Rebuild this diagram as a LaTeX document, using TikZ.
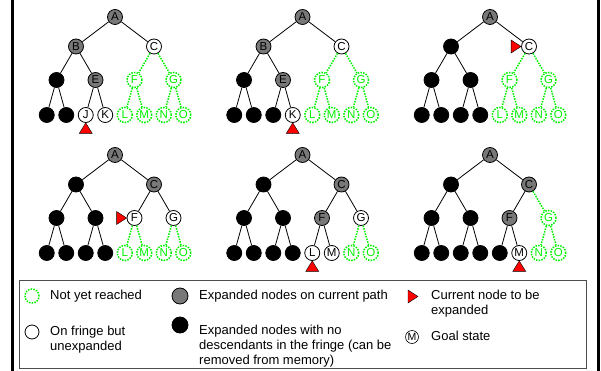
\documentclass[tikz,border=0pt]{standalone}
\usepackage{fontspec}
\setmainfont{Liberation Sans}
\definecolor{ngreen}{RGB}{0,240,0}
\definecolor{ngray}{RGB}{120,120,120}
\tikzset{
 nd/.style={circle, minimum size=15pt, inner sep=0pt, font=\fontsize{11.5}{11.5}\selectfont, line width=0.8pt},
 gnode/.style={nd, draw=black, fill=ngray},
 bnode/.style={nd, draw=black, fill=black},
 wnode/.style={nd, draw=black, fill=white},
 rnode/.style={nd, draw=ngreen, text=ngreen, line width=1.5pt, dash pattern=on 1.5pt off 1.2pt},
 tedge/.style={draw=black, line width=0.8pt},
 gedge/.style={draw=ngreen, line width=1.5pt, dash pattern=on 1.5pt off 1.2pt},
 redtri/.style={fill=red, draw=black, line width=0.4pt},
 legtext/.style={anchor=west, align=left, inner sep=0pt, font=\fontsize{13}{15}\selectfont},
}
\newcommand{\treeedges}[5]{%
 \draw[tedge] (#1a)--(#1b) (#1a)--(#1c) (#1b)--(#1d) (#1b)--(#1e) (#1d)--(#1h) (#1d)--(#1i) (#1e)--(#1j) (#1e)--(#1k);
 \draw[#2] (#1c)--(#1f);
 \draw[#3] (#1c)--(#1g);
 \draw[#4] (#1f)--(#1l) (#1f)--(#1m);
 \draw[#5] (#1g)--(#1n) (#1g)--(#1o);}
\begin{document}
\begin{tikzpicture}[x=1pt,y=-1pt]
\useasboundingbox (0,0) rectangle (601,371);
% frame lines
\draw[line width=3pt] (12,0) -- (12,371);
\draw[line width=3pt] (598,0) -- (598,371);

% ---------- Panel 1 ----------
\begin{scope}[shift={(115,17)}]
\node[gnode] (p1a) at (0,0) {A};
\node[gnode] (p1b) at (-39,29.5) {B};
\node[wnode] (p1c) at (39,29.5) {C};
\node[bnode] (p1d) at (-58.5,63) {};
\node[gnode] (p1e) at (-19.5,63) {E};
\node[rnode] (p1f) at (19.5,63) {F};
\node[rnode] (p1g) at (58.5,63) {G};
\node[bnode] (p1h) at (-68.25,98) {};
\node[bnode] (p1i) at (-48.75,98) {};
\node[wnode] (p1j) at (-29.25,98) {J};
\node[wnode] (p1k) at (-9.75,98) {K};
\node[rnode] (p1l) at (9.75,98) {L};
\node[rnode] (p1m) at (29.25,98) {M};
\node[rnode] (p1n) at (48.75,98) {N};
\node[rnode] (p1o) at (68.25,98) {O};
\end{scope}
\treeedges{p1}{gedge}{gedge}{gedge}{gedge}
\draw[redtri] (p1j.south) -- ++(-6.5,10.5) -- ++(13,0) -- cycle;

% ---------- Panel 2 ----------
\begin{scope}[shift={(302.5,17)}]
\node[gnode] (p2a) at (0,0) {A};
\node[gnode] (p2b) at (-39,29.5) {B};
\node[wnode] (p2c) at (39,29.5) {C};
\node[bnode] (p2d) at (-58.5,63) {};
\node[gnode] (p2e) at (-19.5,63) {E};
\node[rnode] (p2f) at (19.5,63) {F};
\node[rnode] (p2g) at (58.5,63) {G};
\node[bnode] (p2h) at (-68.25,98) {};
\node[bnode] (p2i) at (-48.75,98) {};
\node[bnode] (p2j) at (-29.25,98) {};
\node[wnode] (p2k) at (-9.75,98) {K};
\node[rnode] (p2l) at (9.75,98) {L};
\node[rnode] (p2m) at (29.25,98) {M};
\node[rnode] (p2n) at (48.75,98) {N};
\node[rnode] (p2o) at (68.25,98) {O};
\end{scope}
\treeedges{p2}{gedge}{gedge}{gedge}{gedge}
\draw[redtri] (p2k.south) -- ++(-6.5,10.5) -- ++(13,0) -- cycle;

% ---------- Panel 3 ----------
\begin{scope}[shift={(490,17)}]
\node[gnode] (p3a) at (0,0) {A};
\node[bnode] (p3b) at (-39,29.5) {};
\node[wnode] (p3c) at (39,29.5) {C};
\node[bnode] (p3d) at (-58.5,63) {};
\node[bnode] (p3e) at (-19.5,63) {};
\node[rnode] (p3f) at (19.5,63) {F};
\node[rnode] (p3g) at (58.5,63) {G};
\node[bnode] (p3h) at (-68.25,98) {};
\node[bnode] (p3i) at (-48.75,98) {};
\node[bnode] (p3j) at (-29.25,98) {};
\node[bnode] (p3k) at (-9.75,98) {};
\node[rnode] (p3l) at (9.75,98) {L};
\node[rnode] (p3m) at (29.25,98) {M};
\node[rnode] (p3n) at (48.75,98) {N};
\node[rnode] (p3o) at (68.25,98) {O};
\end{scope}
\treeedges{p3}{gedge}{gedge}{gedge}{gedge}
\draw[redtri] (p3c.west) -- ++(-10,-6.5) -- ++(0,13) -- cycle;

% ---------- Panel 4 ----------
\begin{scope}[shift={(115,155)}]
\node[gnode] (p4a) at (0,0) {A};
\node[bnode] (p4b) at (-39,29.5) {};
\node[gnode] (p4c) at (39,29.5) {C};
\node[bnode] (p4d) at (-58.5,63) {};
\node[bnode] (p4e) at (-19.5,63) {};
\node[wnode] (p4f) at (19.5,63) {F};
\node[wnode] (p4g) at (58.5,63) {G};
\node[bnode] (p4h) at (-68.25,98) {};
\node[bnode] (p4i) at (-48.75,98) {};
\node[bnode] (p4j) at (-29.25,98) {};
\node[bnode] (p4k) at (-9.75,98) {};
\node[rnode] (p4l) at (9.75,98) {L};
\node[rnode] (p4m) at (29.25,98) {M};
\node[rnode] (p4n) at (48.75,98) {N};
\node[rnode] (p4o) at (68.25,98) {O};
\end{scope}
\treeedges{p4}{tedge}{tedge}{gedge}{gedge}
\draw[redtri] (p4f.west) -- ++(-10,-6.5) -- ++(0,13) -- cycle;

% ---------- Panel 5 ----------
\begin{scope}[shift={(302.5,155)}]
\node[gnode] (p5a) at (0,0) {A};
\node[bnode] (p5b) at (-39,29.5) {};
\node[gnode] (p5c) at (39,29.5) {C};
\node[bnode] (p5d) at (-58.5,63) {};
\node[bnode] (p5e) at (-19.5,63) {};
\node[gnode] (p5f) at (19.5,63) {F};
\node[wnode] (p5g) at (58.5,63) {G};
\node[bnode] (p5h) at (-68.25,98) {};
\node[bnode] (p5i) at (-48.75,98) {};
\node[bnode] (p5j) at (-29.25,98) {};
\node[bnode] (p5k) at (-9.75,98) {};
\node[wnode] (p5l) at (9.75,98) {L};
\node[wnode] (p5m) at (29.25,98) {M};
\node[rnode] (p5n) at (48.75,98) {N};
\node[rnode] (p5o) at (68.25,98) {O};
\end{scope}
\treeedges{p5}{tedge}{tedge}{tedge}{gedge}
\draw[redtri] (p5l.south) -- ++(-6.5,10.5) -- ++(13,0) -- cycle;

% ---------- Panel 6 ----------
\begin{scope}[shift={(490,155)}]
\node[gnode] (p6a) at (0,0) {A};
\node[bnode] (p6b) at (-39,29.5) {};
\node[gnode] (p6c) at (39,29.5) {C};
\node[bnode] (p6d) at (-58.5,63) {};
\node[bnode] (p6e) at (-19.5,63) {};
\node[gnode] (p6f) at (19.5,63) {F};
\node[rnode] (p6g) at (58.5,63) {G};
\node[bnode] (p6h) at (-68.25,98) {};
\node[bnode] (p6i) at (-48.75,98) {};
\node[bnode] (p6j) at (-29.25,98) {};
\node[bnode] (p6k) at (-9.75,98) {};
\node[bnode] (p6l) at (9.75,98) {};
\node[wnode] (p6m) at (29.25,98) {M};
\node[rnode] (p6n) at (48.75,98) {N};
\node[rnode] (p6o) at (68.25,98) {O};
\end{scope}
\treeedges{p6}{tedge}{gedge}{tedge}{gedge}
\draw[redtri] (p6m.south) -- ++(-6.5,10.5) -- ++(13,0) -- cycle;

% ---------- Legend ----------
\draw[draw=black!70, line width=0.8pt] (19,280) rectangle (586,368);
\node[rnode, minimum size=14pt] (lg1) at (32,296) {};
\node[legtext] (lt1) at (50,296) {Not yet reached};
\node[wnode, minimum size=14pt] (lg2) at (32,332) {};
\node[legtext] (lt2) at (50,339.5) {On fringe but\\unexpanded};
\node[gnode, minimum size=16pt] (lg3) at (180,296) {};
\node[legtext] (lt3) at (199,296) {Expanded nodes on current path};
\node[bnode, minimum size=16pt] (lg4) at (180,325) {};
\node[legtext] (lt4) at (199,346) {Expanded nodes with no\\descendants in the fringe (can be\\removed from memory)};
\coordinate (lg5) at (408,290);
\draw[redtri] (lg5) -- ++(10,6.5) -- ++(-10,6.5) -- cycle;
\node[legtext] (lt5) at (431,304) {Current node to be\\expanded};
\node[wnode, minimum size=13pt, line width=0.6pt, font=\fontsize{10.5}{10.5}\selectfont] (lg6) at (412,337) {M};
\node[legtext] (lt6) at (431,336) {Goal state};
\end{tikzpicture}
\end{document}
